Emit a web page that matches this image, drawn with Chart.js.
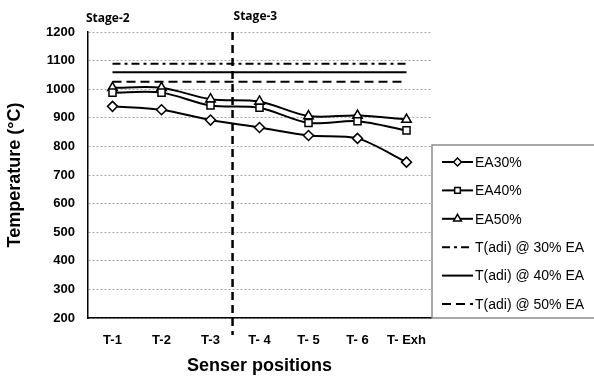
<!DOCTYPE html>
<html>
<head>
<meta charset="utf-8">
<script src="https://cdn.jsdelivr.net/npm/chart.js@4.4.0/dist/chart.umd.min.js"></script>
<style>
  html, body { margin: 0; padding: 0; background: #fff; }
  #wrap { width: 594px; height: 377px; }
</style>
</head>
<body>
<div id="wrap"><canvas id="tempChart"></canvas></div>
<script>
const positions = ["T-1", "T-2", "T-3", "T- 4", "T- 5", "T- 6", "T- Exh"];
const ea30 = [940, 928, 892, 866, 838, 828, 745];
const ea40 = [988, 988, 943, 935, 882, 888, 856];
const ea50 = [1005, 1005, 965, 957, 906, 908, 894];
const tAdi30 = [1089, 1089, 1089, 1089, 1089, 1089, 1089];
const tAdi40 = [1059, 1059, 1059, 1059, 1059, 1059, 1059];
const tAdi50 = [1026, 1026, 1026, 1026, 1026, 1026, 1026];
const yMin = 200, yMax = 1200, yStep = 100;
const stageNames = ["Stage-2", "Stage-3"];
const stageBoundary = 2.45; // between T-3 and T- 4

// vertical stage divider + stage names
const stagePlugin = {
  id: 'stagePlugin',
  afterDatasetsDraw(chart) {
    const { ctx, chartArea, scales } = chart;
    const x = scales.x.getPixelForValue(stageBoundary);
    ctx.save();
    ctx.strokeStyle = '#000';
    ctx.lineWidth = 2.5;
    ctx.setLineDash([8, 5]);
    ctx.beginPath();
    ctx.moveTo(x, chartArea.top);
    ctx.lineTo(x, chartArea.bottom + 17);
    ctx.stroke();
    ctx.setLineDash([]);
    ctx.fillStyle = '#000';
    ctx.font = 'bold 12px "Open Sans"';
    ctx.textBaseline = 'middle';
    ctx.textAlign = 'left';
    ctx.fillText(stageNames[0], chartArea.left - 2, 19);
    ctx.fillText(stageNames[1], x + 1, 17);
    ctx.restore();
  }
};

// boxed legend on the right like the excel one
const legendBox = {
  id: 'legendBox',
  afterDraw(chart) {
    const { ctx, chartArea } = chart;
    const left = chartArea.right + 1;
    const top = 145;
    ctx.save();
    ctx.strokeStyle = '#8c8c8c';
    ctx.lineWidth = 1.5;
    ctx.strokeRect(left, top, 200, chartArea.bottom - top);
    ctx.font = '14px "Liberation Sans"';
    ctx.textBaseline = 'middle';
    chart.data.datasets.forEach((ds, i) => {
      const y = top + 17 + i * 28.4;
      ctx.strokeStyle = '#000';
      ctx.lineWidth = ds.borderWidth;
      ctx.setLineDash(ds.borderDash || []);
      ctx.beginPath();
      ctx.moveTo(left + 10, y);
      ctx.lineTo(left + 41, y);
      ctx.stroke();
      ctx.setLineDash([]);
      if (ds.pointRadius > 0) {
        ctx.fillStyle = '#fff';
        ctx.lineWidth = 1.5;
        Chart.helpers.drawPoint(ctx, { pointStyle: ds.pointStyle, radius: ds.pointRadius - 1, borderWidth: 1.5, rotation: 0 }, left + 25.5, y);
      }
      ctx.fillStyle = '#000';
      ctx.fillText(ds.label, left + 43, y + 1);
    });
    ctx.restore();
  }
};

const markerDs = (label, data, style, r) => ({
  label, data,
  borderColor: '#000', borderWidth: 2,
  pointStyle: style, pointRadius: r, pointHoverRadius: r,
  pointBackgroundColor: '#fff', pointBorderColor: '#000', pointBorderWidth: 1.5,
  tension: 0.3
});
const refDs = (label, data, dash) => ({
  label, data,
  borderColor: '#000', borderWidth: 2, borderDash: dash,
  pointRadius: 0, pointHoverRadius: 0, tension: 0
});

new Chart(document.getElementById('tempChart'), {
  type: 'line',
  data: {
    labels: positions,
    datasets: [
      markerDs('EA30%', ea30, 'rectRot', 5),
      markerDs('EA40%', ea40, 'rect', 5),
      markerDs('EA50%', ea50, 'triangle', 5.5),
      refDs('T(adi) @ 30% EA', tAdi30, [8, 4, 3, 4]),
      refDs('T(adi) @ 40% EA', tAdi40, []),
      refDs('T(adi) @ 50% EA', tAdi50, [9, 5])
    ]
  },
  options: {
    responsive: true,
    maintainAspectRatio: false,
    animation: false,
    layout: { padding: { top: 32, right: 163, left: 0, bottom: 0 } },
    plugins: { legend: { display: false }, tooltip: { enabled: false } },
    scales: {
      x: {
        offset: true,
        grid: { display: true, color: 'transparent', drawTicks: false },
        border: { display: true, color: '#000', width: 1.5 },
        ticks: { color: '#000', padding: 15, maxRotation: 0, font: { family: 'Liberation Sans', weight: 'bold', size: 13 } },
        title: { display: true, text: 'Senser positions', color: '#000', padding: { top: 0, bottom: 0 },
                 font: { family: 'Liberation Sans', weight: 'bold', size: 18 } },
        afterFit: (s) => { s.height = 59; }
      },
      y: {
        min: yMin, max: yMax,
        grid: { color: '#a8a8a8', lineWidth: 1, drawTicks: false },
        border: { display: true, color: '#000', width: 1.5, dash: [2, 2] },
        ticks: { stepSize: yStep, color: '#000', padding: 13, callback: (v) => String(v),
                 font: { family: 'Liberation Sans', weight: 'bold', size: 13 } },
        title: { display: true, text: 'Temperature (°C)', color: '#000', padding: { top: 4, bottom: 0 },
                 font: { family: 'Liberation Sans', weight: 'bold', size: 18 } },
        afterFit: (s) => { s.width = 88; }
      }
    }
  },
  plugins: [stagePlugin, legendBox]
});
</script>
</body>
</html>
